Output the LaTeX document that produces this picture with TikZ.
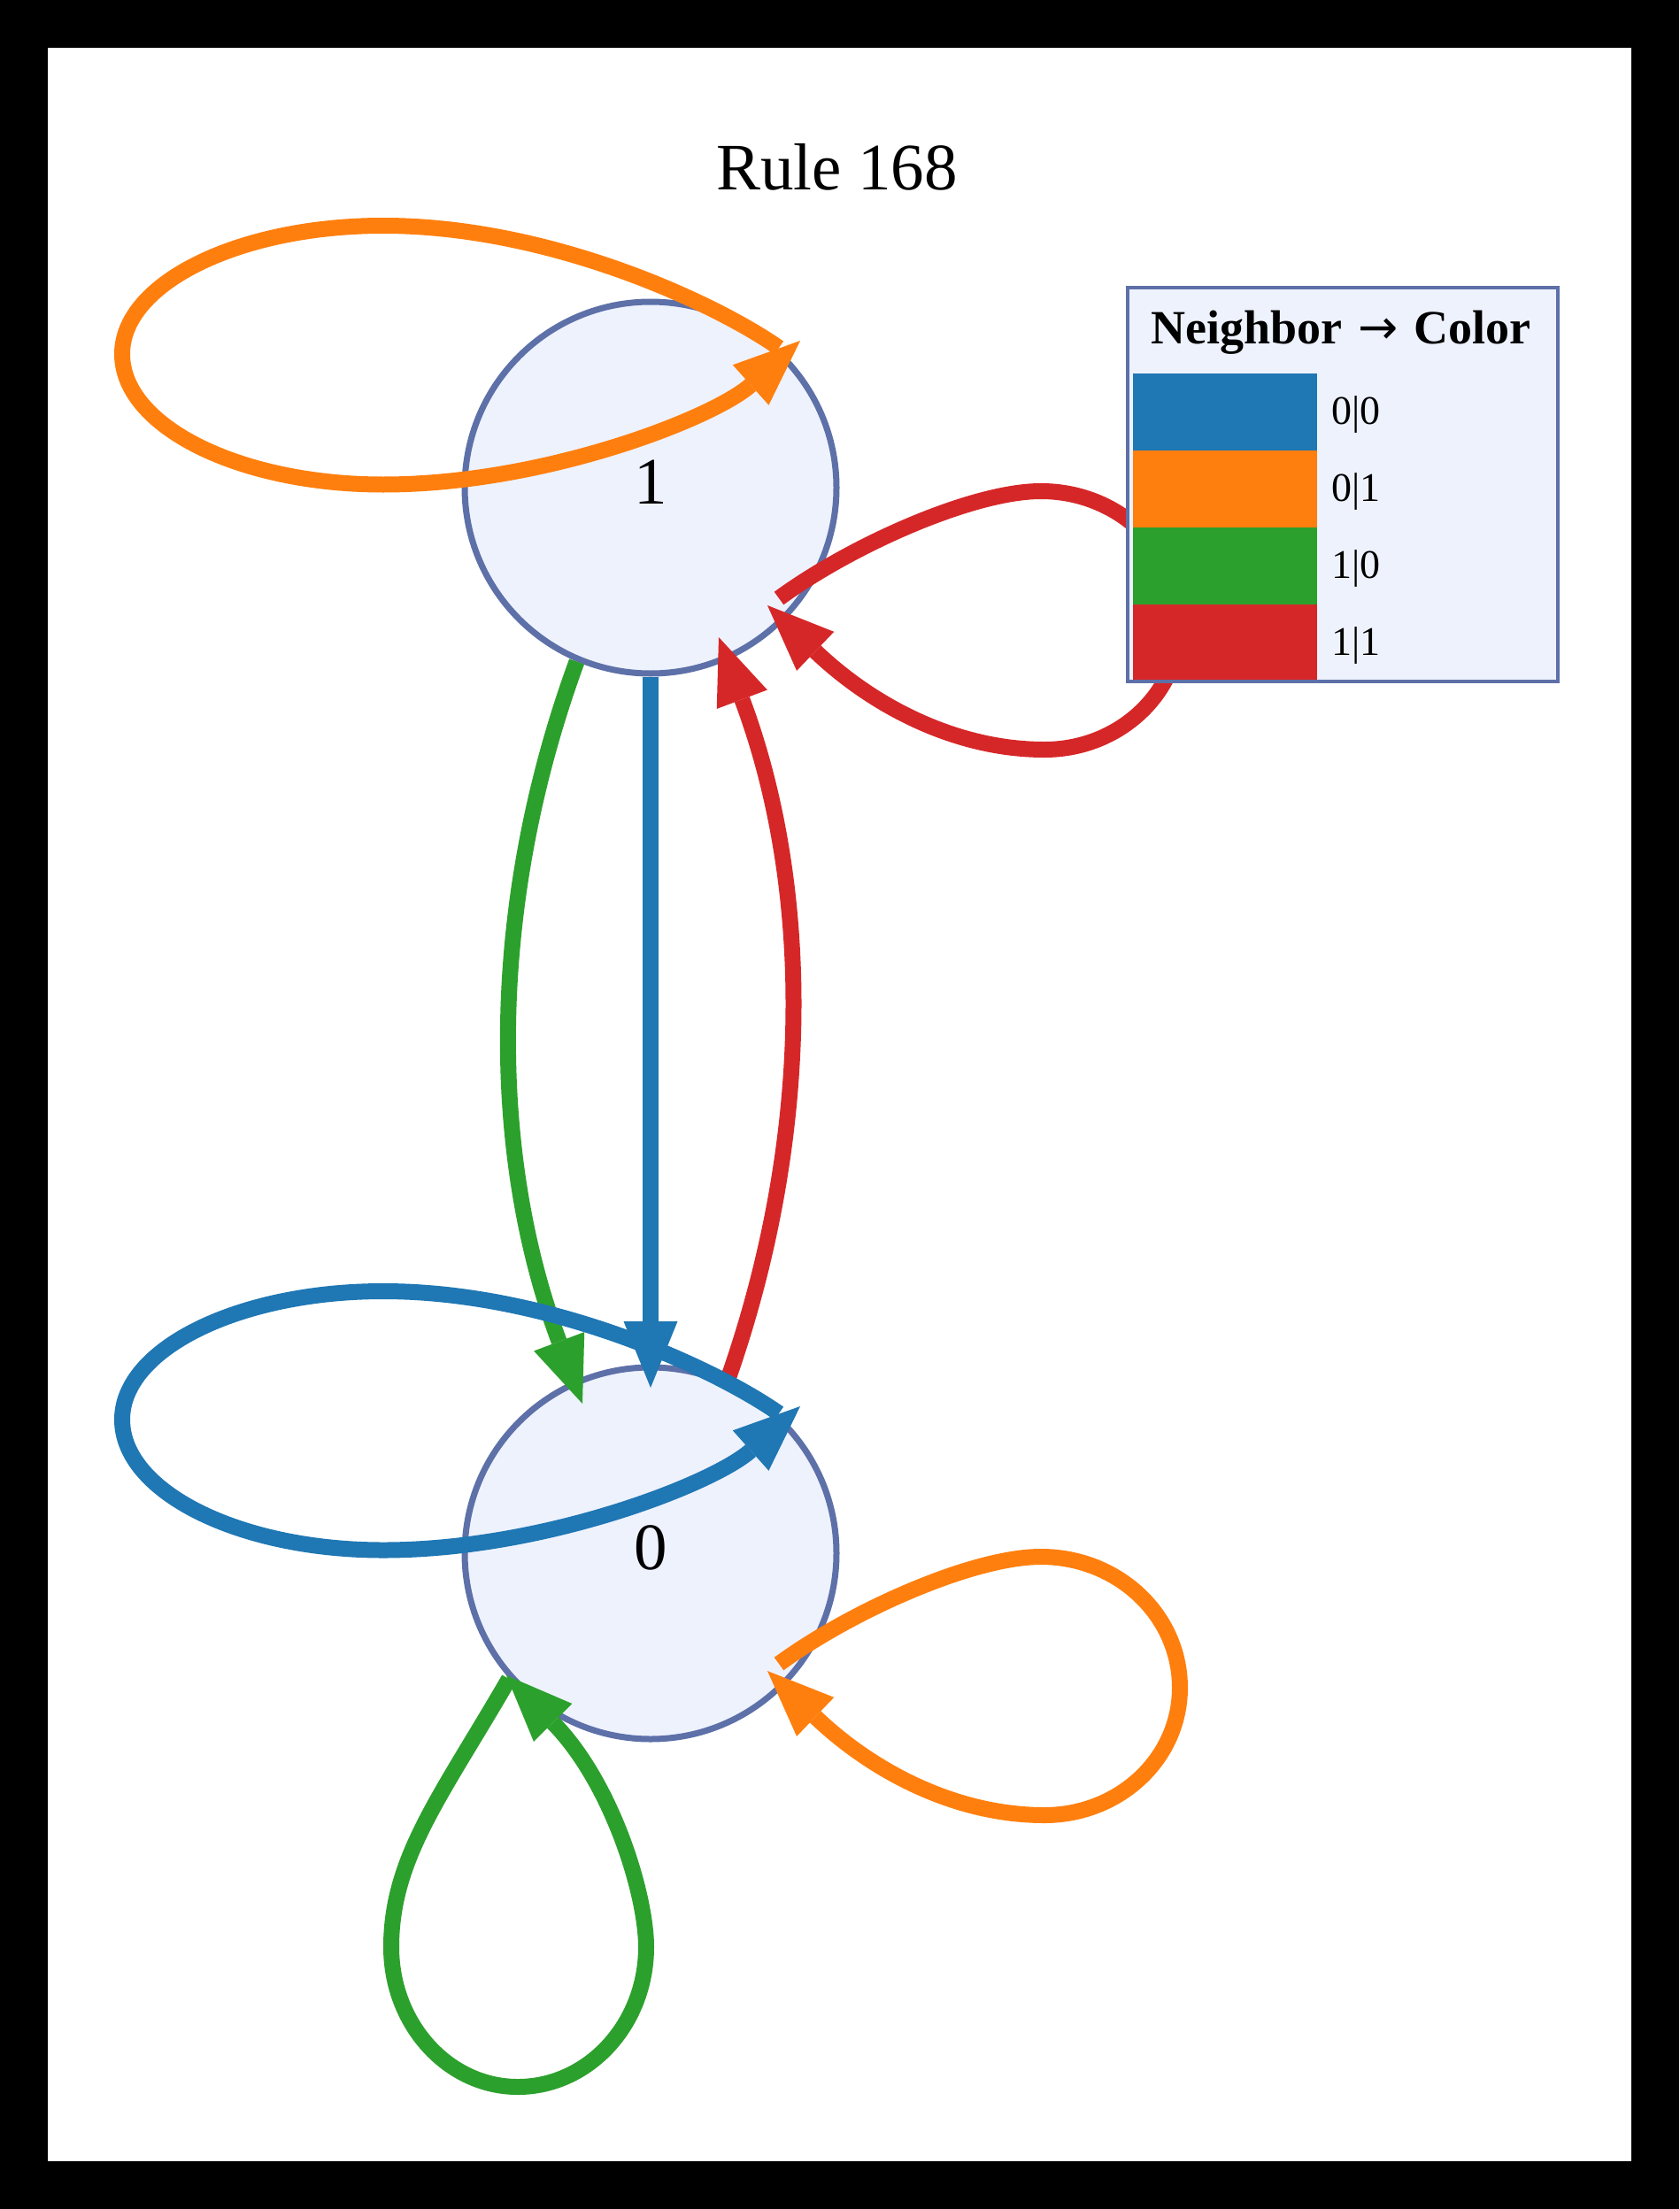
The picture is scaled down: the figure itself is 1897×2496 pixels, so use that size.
\documentclass[tikz,border=0pt]{standalone}
\usepackage{fontspec}
\setmainfont{Liberation Serif}
\newfontfamily\arrowfont{DejaVu Sans}
\usetikzlibrary{arrows.meta}
\definecolor{tabblue}{HTML}{1F77B4}
\definecolor{taborange}{HTML}{FF7F0E}
\definecolor{tabgreen}{HTML}{2CA02C}
\definecolor{tabred}{HTML}{D62728}
\definecolor{nodefill}{HTML}{EEF2FD}
\definecolor{nodeedge}{HTML}{5D70A8}
\begin{document}
\begin{tikzpicture}[x=1pt,y=-1pt,
  statenode/.style={circle, draw=nodeedge, fill=nodefill, line width=7pt,
    minimum size=420pt, inner sep=0pt, text height=50pt, text depth=14pt,
    font=\fontsize{75}{90}\selectfont},
  edgeline/.style={line width=18pt, line cap=butt,
    -{Triangle[length=75pt,width=61pt,line width=0pt]}},
  legendlabel/.style={anchor=base west, inner sep=0pt, font=\fontsize{46}{55}\selectfont},
]
\useasboundingbox (0,0) rectangle (1897,2496);
\fill[black] (0,0) rectangle (1897,2496);
\fill[white] (54,54) rectangle (1843,2442);

% title
\node[anchor=base, inner sep=0pt, font=\fontsize{75}{90}\selectfont] (title) at (945.5,215) {Rule 168};

% states
\node[statenode] (n1) at (735,551) {1};
\node[statenode] (n0) at (735,1755) {0};

% end points
\coordinate (blueTip) at (735,1568);
\coordinate (greenTip) at (658,1586);
\coordinate (redTip) at (812,720);
\coordinate (o1s) at (880,393);
\coordinate (o1e) at (904,385);
\coordinate (b0s) at (880,1597);
\coordinate (b0e) at (904,1589);
\coordinate (o0s) at (880,1880);
\coordinate (o0e) at (867,1888);
\coordinate (r1s) at (880,676);
\coordinate (r1e) at (867,684);
\coordinate (g0s) at (575,1897);
\coordinate (g0e) at (572,1893);

% edges between states
\draw[edgeline, tabblue] (n1.south) -- (blueTip);
\draw[edgeline, tabgreen] (n1.-113.6) .. controls (550.3,1024) and (552.7,1305) .. (greenTip);
\draw[edgeline, tabred] (n0.66.4) .. controls (919.7,1282) and (917.3,1001) .. (redTip);

% self loops
\draw[edgeline, taborange] (o1s) .. controls (808,342.5) and (621,255) .. (433,255)
  .. controls (270,255) and (138,320) .. (138,400)
  .. controls (138,481.5) and (270,547.5) .. (433,547.5)
  .. controls (614.6,547.5) and (806.4,472.4) .. (o1e);
\draw[edgeline, tabblue] (b0s) .. controls (808,1546.5) and (621,1459) .. (433,1459)
  .. controls (270,1459) and (138,1524) .. (138,1604)
  .. controls (138,1685.5) and (270,1751.5) .. (433,1751.5)
  .. controls (614.6,1751.5) and (806.4,1676.4) .. (b0e);
\draw[edgeline, taborange] (o0s) .. controls (962,1820) and (1099,1759) .. (1176,1759)
  .. controls (1263,1759) and (1333,1825) .. (1333,1907)
  .. controls (1333,1987) and (1264.5,2051) .. (1180,2051)
  .. controls (1079,2051) and (985,2001) .. (o0e);
\draw[edgeline, tabred] (r1s) .. controls (962,616) and (1099,555) .. (1176,555)
  .. controls (1263,555) and (1333,621) .. (1333,703)
  .. controls (1333,783) and (1264.5,847) .. (1180,847)
  .. controls (1079,847) and (985,797) .. (r1e);
\draw[edgeline, tabgreen] (g0s) .. controls (499,2028.6) and (442,2099) .. (442,2200)
  .. controls (442,2287) and (506,2358) .. (585,2358)
  .. controls (665,2358) and (730,2287) .. (730,2200)
  .. controls (730,2140) and (691,2013.7) .. (g0e);

% legend
\draw[fill=nodefill, draw=nodeedge, line width=4pt] (1274,325) rectangle (1760,770);
\node[anchor=base, inner sep=0pt, font=\bfseries\fontsize{54}{64}\selectfont] (legtitle) at (1515,388) {Neighbor\hspace{4pt} {\arrowfont\mdseries →}\hspace{4pt} Color};
\fill[tabblue]   (1280,422) rectangle (1488,509);
\fill[taborange] (1280,509) rectangle (1488,596);
\fill[tabgreen]  (1280,596) rectangle (1488,683);
\fill[tabred]    (1280,683) rectangle (1488,768);
\node[legendlabel] (l00) at (1504,479) {0|0};
\node[legendlabel] (l01) at (1504,566) {0|1};
\node[legendlabel] (l10) at (1504,653) {1|0};
\node[legendlabel] (l11) at (1504,740) {1|1};
\end{tikzpicture}
\end{document}
